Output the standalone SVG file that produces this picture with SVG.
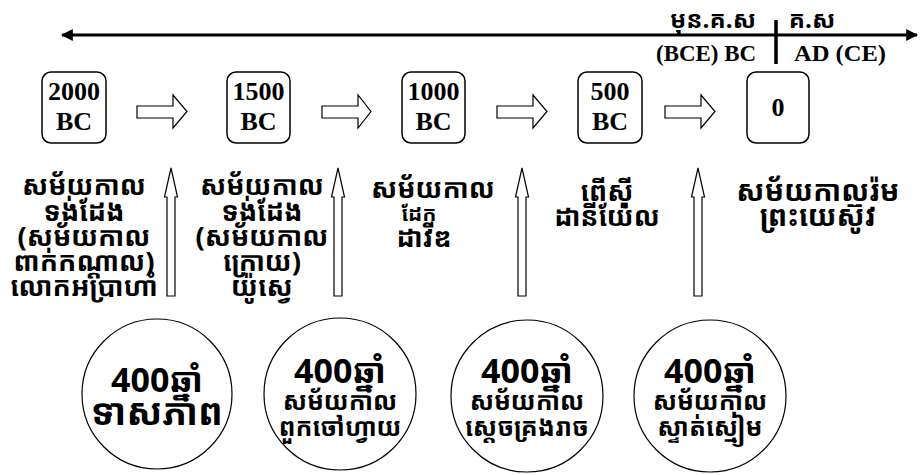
<svg xmlns="http://www.w3.org/2000/svg" width="923" height="475" viewBox="0 0 923 475">
<style>
.box{fill:#fff;stroke:#000;stroke-width:1.5}
.yr{font-family:"Liberation Serif",serif;font-weight:bold;font-size:26px;text-anchor:middle;fill:#000}
.era{font-family:"Liberation Serif",serif;font-weight:bold;font-size:23px;text-anchor:middle;fill:#000}
.kh{font-family:"Noto Sans Khmer","Khmer OS","Khmer OS System","Hanuman","Noto Serif Khmer",sans-serif;font-size:27px;font-weight:bold;text-anchor:middle;fill:#000}
.sm{font-size:25px}
.blk{fill:#fff;stroke:#000;stroke-width:1.2}
.circ{fill:#fff;stroke:#000;stroke-width:1.2}
.num{font-family:"Open Sans","Noto Sans Khmer",sans-serif;font-weight:bold;font-size:34px;text-anchor:middle;fill:#000}
</style>
<defs>
<marker id="ah" viewBox="0 0 10 10" refX="9" refY="5" markerWidth="4" markerHeight="4" orient="auto-start-reverse">
<path d="M0,0 L10,5 L0,10 z" fill="#000"/>
</marker>
</defs>
<g id="timeline">
<line x1="62" y1="35" x2="917" y2="35" stroke="#000" stroke-width="3" marker-start="url(#ah)" marker-end="url(#ah)"/>
<line x1="776" y1="20" x2="776" y2="64" stroke="#000" stroke-width="3.5"/>
<text class="kh" x="713" y="28" style="font-size:24px">មុន.គ.ស</text>
<text class="kh" x="812" y="28" style="font-size:24px">គ.ស</text>
<text class="era" x="706" y="61" textLength="100" lengthAdjust="spacingAndGlyphs">(BCE) BC</text>
<text class="era" x="840" y="61" textLength="92" lengthAdjust="spacingAndGlyphs">AD (CE)</text>
</g>
<g id="n2000"><rect class="box" x="42" y="72" width="64" height="71" rx="9"/><text class="yr" x="74" y="100">2000</text><text class="yr" x="74" y="130">BC</text></g>
<g id="n1500"><rect class="box" x="227" y="72" width="63" height="71" rx="9"/><text class="yr" x="258.5" y="100">1500</text><text class="yr" x="258.5" y="130">BC</text></g>
<g id="n1000"><rect class="box" x="402" y="72" width="63" height="71" rx="9"/><text class="yr" x="433.5" y="100">1000</text><text class="yr" x="433.5" y="130">BC</text></g>
<g id="n500"><rect class="box" x="578" y="72" width="64" height="71" rx="9"/><text class="yr" x="610" y="100">500</text><text class="yr" x="610" y="130">BC</text></g>
<g id="n0"><rect class="box" x="747" y="72" width="62" height="71" rx="9"/><text class="yr" x="778" y="116">0</text></g>
<g id="connectors">
<path class="blk" d="M137,106 H173 V95 L187,111.5 L173,128 V118 H137 Z"/>
<path class="blk" d="M322,106 H358 V95 L371,111.5 L358,128 V118 H322 Z"/>
<path class="blk" d="M497,106 H533 V95 L547,111.5 L533,128 V118 H497 Z"/>
<path class="blk" d="M665,106 H701 V95 L715,111.5 L701,128 V118 H665 Z"/>
<path class="blk" d="M167,296 V197 H164.5 L171,168 L177.5,197 H175 V296 Z"/>
<path class="blk" d="M334,296 V197 H331.5 L338,168 L344.5,197 H342 V296 Z"/>
<path class="blk" d="M518,296 V197 H515.5 L522,168 L528.5,197 H526 V296 Z"/>
<path class="blk" d="M694,296 V197 H691.5 L698,168 L704.5,197 H702 V296 Z"/>
</g>
<g id="t1"><text class="kh" x="84" y="195">សម័យកាល</text><text class="kh" x="84" y="221">ទង់ដែង</text><text class="kh" x="84" y="246">(សម័យកាល</text><text class="kh" x="84" y="271">ពាក់កណ្ដាល)</text><text class="kh" x="84" y="296">លោកអប្រាហាំ</text></g>
<g id="t2"><text class="kh" x="262" y="195">សម័យកាល</text><text class="kh" x="262" y="221">ទង់ដែង</text><text class="kh" x="262" y="246">(សម័យកាល</text><text class="kh" x="262" y="271">ក្រោយ)</text><text class="kh" x="262" y="296">យ៉ូស្វេ</text></g>
<g id="t3"><text class="kh" x="433" y="198">សម័យកាល</text><text class="kh" x="419" y="221" style="font-size:21px">ដែក</text><text class="kh" x="424" y="247">ដាវីឌ</text></g>
<g id="t4"><text class="kh" x="607" y="201">ពើស៊ី</text><text class="kh" x="607" y="226">ដានីយ៉ែល</text></g>
<g id="t5"><text class="kh" x="818" y="201" style="font-size:29px">សម័យកាលរ៉ម</text><text class="kh" x="818" y="226" style="font-size:29px">ព្រះយេស៊ូវ</text></g>
<g id="c1"><circle class="circ" cx="157" cy="394" r="75"/><text class="num" x="157" y="392">400ឆ្នាំ</text><text class="kh" x="157" y="425" style="font-size:37px">ទាសភាព</text></g>
<g id="c2"><circle class="circ" cx="340" cy="394" r="76"/><text class="num" x="340" y="383">400ឆ្នាំ</text><text class="kh sm" x="340" y="410">សម័យកាល</text><text class="kh sm" x="340" y="436">ពួកចៅហ្វាយ</text></g>
<g id="c3"><circle class="circ" cx="527" cy="396" r="76"/><text class="num" x="527" y="383">400ឆ្នាំ</text><text class="kh sm" x="527" y="410">សម័យកាល</text><text class="kh sm" x="527" y="436">ស្ដេចគ្រងរាច</text></g>
<g id="c4"><circle class="circ" cx="710" cy="396" r="76"/><text class="num" x="710" y="383">400ឆ្នាំ</text><text class="kh sm" x="710" y="410">សម័យកាល</text><text class="kh sm" x="710" y="436">ស្ទាត់ស្មៀម</text></g>
</svg>
